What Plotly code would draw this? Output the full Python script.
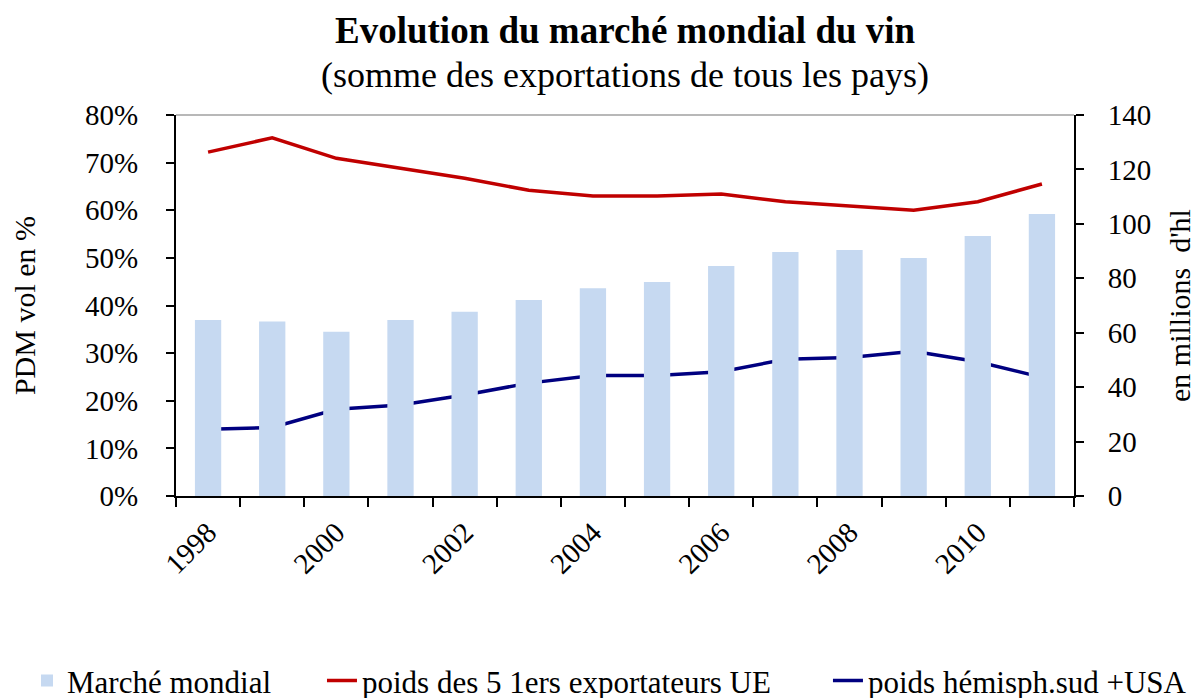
import plotly.graph_objects as go

years = list(range(1998, 2012))
marche_mondial = [64.7, 64.1, 60.4, 64.7, 67.7, 72.0, 76.3, 78.6, 84.5, 89.7, 90.4, 87.5, 95.5, 103.6]
poids_ue = [72.2, 75.2, 70.9, 68.8, 66.7, 64.2, 63.0, 63.0, 63.4, 61.8, 60.9, 60.0, 61.8, 65.5]
poids_sud = [14.0, 14.4, 18.2, 19.1, 21.2, 23.7, 25.3, 25.3, 26.1, 28.7, 29.1, 30.4, 28.2, 24.9]
tick_years = [1998, 2000, 2002, 2004, 2006, 2008, 2010]

FONT = "Liberation Serif"

fig = go.Figure()
fig.add_trace(go.Bar(x=years, y=marche_mondial, name="Marché mondial",
                     marker=dict(color="#C6D9F1", line=dict(width=0)),
                     width=0.41, yaxis="y2", legend="legend"))
fig.add_trace(go.Scatter(x=years, y=[v / 100 for v in poids_ue], mode="lines",
                         name="poids des 5 1ers exportateurs UE",
                         line=dict(color="#C00000", width=3.5), legend="legend2"))
fig.add_trace(go.Scatter(x=years, y=[v / 100 for v in poids_sud], mode="lines",
                         name="poids hémisph.sud +USA",
                         line=dict(color="#000080", width=3.5), legend="legend3"))

legend_common = dict(orientation="h", xref="container", yref="container",
                     y=0.036, xanchor="left", yanchor="middle",
                     font=dict(family=FONT, size=31), bgcolor="rgba(0,0,0,0)")

fig.update_layout(
    width=1203, height=698,
    margin=dict(l=162, r=137, t=107, b=210),
    paper_bgcolor="white", plot_bgcolor="white",
    font=dict(family=FONT, size=29, color="black"),
    showlegend=True,
    legend=dict(legend_common, x=0.0158),
    legend2=dict(legend_common, x=0.261),
    legend3=dict(legend_common, x=0.6816),
    xaxis=dict(range=[1997.5, 2011.5], tickvals=tick_years,
               ticktext=[str(y) for y in tick_years], tickangle=-45,
               ticks="", showgrid=False, zeroline=False, ticklabelstandoff=6,
               showline=True, linecolor="black", linewidth=2,
               tickfont=dict(family=FONT, size=29),
               minor=dict(tickvals=[y - 0.5 for y in years] + [2011.5],
                          ticks="outside", ticklen=9, tickwidth=2, tickcolor="black",
                          showgrid=False)),
    yaxis=dict(range=[0, 0.8], dtick=0.1, tickformat=".0%",
               showgrid=False, zeroline=False, showline=True, linecolor="black",
               linewidth=2, ticks="outside", ticklen=8, tickwidth=2, tickcolor="black",
               ticklabelstandoff=22,
               title=dict(text="PDM vol en %", font=dict(family=FONT, size=30), standoff=44),
               tickfont=dict(family=FONT, size=29)),
    yaxis2=dict(range=[0, 140], dtick=20, overlaying="y", side="right",
                showgrid=False, zeroline=False, showline=True, linecolor="black",
                linewidth=2, ticks="outside", ticklen=8, tickwidth=2, tickcolor="black",
                ticklabelstandoff=18,
                title=dict(text="en millions  d'hl", font=dict(family=FONT, size=30), standoff=19),
                tickfont=dict(family=FONT, size=29)),
    shapes=[dict(type="line", xref="paper", yref="paper", x0=0, x1=1, y0=1, y1=1,
                 line=dict(color="#A0A0A0", width=1.5))],
    annotations=[
        dict(text="<b>Evolution du marché mondial du vin</b>", xref="paper", yref="paper",
             x=0.5, y=1.0, yshift=85, xanchor="center", yanchor="middle", showarrow=False,
             font=dict(family=FONT, size=37)),
        dict(text="(somme des exportations de tous les pays)", xref="paper", yref="paper",
             x=0.5, y=1.0, yshift=40, xanchor="center", yanchor="middle", showarrow=False,
             font=dict(family=FONT, size=36)),
    ],
)

fig.write_html("out.html")
